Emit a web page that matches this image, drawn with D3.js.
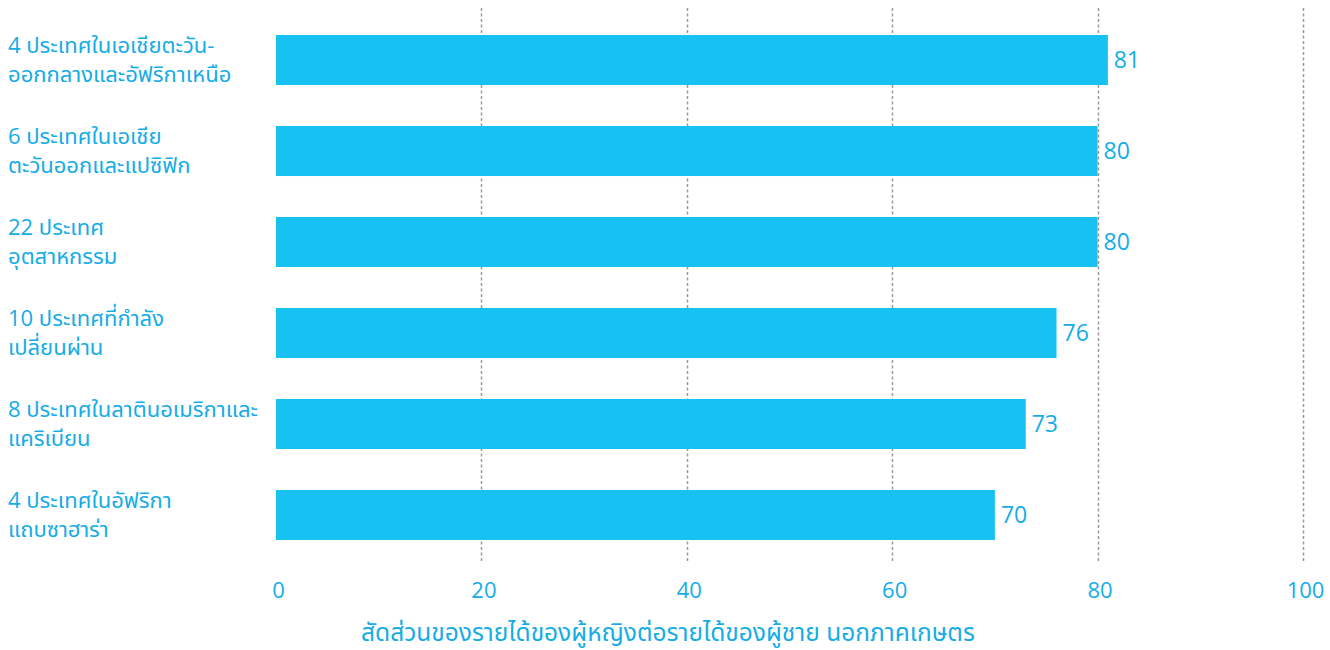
<!DOCTYPE html>
<html>
<head>
<meta charset="utf-8">
<script src="https://cdn.jsdelivr.net/npm/d3@7"></script>
<style>
  body { margin: 0; background: #fff; }
  svg text { font-family: "Open Sans", "Noto Sans", "Noto Sans Thai", sans-serif; }
</style>
</head>
<body>
<div id="chart"></div>
<script>
var categories = [
  ["4 ประเทศในเอเชียตะวัน-", "ออกกลางและอัฟริกาเหนือ"],
  ["6 ประเทศในเอเชีย", "ตะวันออกและแปซิฟิก"],
  ["22 ประเทศ", "อุตสาหกรรม"],
  ["10 ประเทศที่กำลัง", "เปลี่ยนผ่าน"],
  ["8 ประเทศในลาตินอเมริกาและ", "แคริเบียน"],
  ["4 ประเทศในอัฟริกา", "แถบซาฮาร่า"]
];
var values = [81, 80, 80, 76, 73, 70];
var ticks = [0, 20, 40, 60, 80, 100];
var axisTitle = "สัดส่วนของรายได้ของผู้หญิงต่อรายได้ของผู้ชาย นอกภาคเกษตร";

var width = 1330, height = 650;
var barColor = "#17c2f2";
var textColor = "#16ace6";

var svg = d3.select("#chart")
  .append('svg')
  .attr('width', width)
  .attr('height', height);

var x = d3.scaleLinear()
  .domain([0, 100])
  .range([276, 1303]);

var y = d3.scaleBand()
  .domain(d3.range(categories.length))
  .range([14.5, 560.5])
  .paddingInner(0.45)
  .paddingOuter(0.225);

// dotted gridlines
svg.append('g')
  .selectAll('line')
  .data(ticks.filter(function(t) { return t > 0; }))
  .enter()
  .append('line')
  .attr('x1', function(d) { return Math.round(x(d)) + 0.5; })
  .attr('x2', function(d) { return Math.round(x(d)) + 0.5; })
  .attr('y1', 8)
  .attr('y2', 562)
  .attr('stroke', '#9a9a9a')
  .attr('stroke-width', 1.5)
  .attr('stroke-dasharray', '3,2.5');

// bars
svg.append('g')
  .selectAll('rect')
  .data(values)
  .enter()
  .append('rect')
  .attr('x', x(0))
  .attr('y', function(d, i) { return y(i); })
  .attr('width', function(d) { return x(d) - x(0); })
  .attr('height', y.bandwidth())
  .attr('fill', barColor);

// value labels
svg.append('g')
  .selectAll('text')
  .data(values)
  .enter()
  .append('text')
  .attr('x', function(d) { return x(d) + 6; })
  .attr('y', function(d, i) { return y(i) + y.bandwidth() / 2; })
  .attr('dy', '0.36em')
  .attr('fill', textColor)
  .style('font-size', '23px')
  .text(function(d) { return d; });

// category labels, two lines each
var cat = svg.append('g')
  .selectAll('text')
  .data(categories)
  .enter()
  .append('text')
  .attr('x', 8)
  .attr('y', function(d, i) { return y(i) + y.bandwidth() / 2; })
  .attr('fill', textColor)
  .style('font-size', '22px');

cat.selectAll('tspan')
  .data(function(d) { return d; })
  .enter()
  .append('tspan')
  .attr('x', 8)
  .attr('dy', function(d, j) { return j === 0 ? '-0.3em' : '1.3em'; })
  .text(function(d) { return d; });

// x axis tick labels
var xAxis = d3.axisBottom(x)
  .tickValues(ticks)
  .tickSize(0)
  .tickPadding(0);

var ax = svg.append('g')
  .attr('transform', 'translate(2,' + 582 + ')')
  .call(xAxis);

ax.select('.domain').remove();
ax.selectAll('text')
  .attr('fill', textColor)
  .attr('dy', '0.71em')
  .style('font-size', '22px')
  .style('font-family', '"Open Sans", "Noto Sans", sans-serif');

// axis title
svg.append('text')
  .attr('x', 668)
  .attr('y', 632)
  .attr('dy', '0.35em')
  .attr('text-anchor', 'middle')
  .attr('fill', textColor)
  .style('font-size', '24.5px')
  .text(axisTitle);
</script>
</body>
</html>
